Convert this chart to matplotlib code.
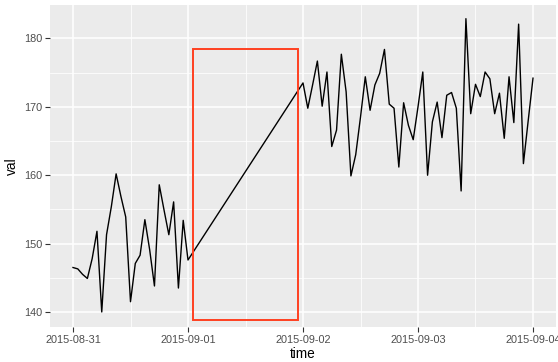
import pandas as pd
import numpy as np
import matplotlib
matplotlib.use("Agg")
import matplotlib.pyplot as plt
import matplotlib.dates as mdates
from matplotlib.patches import Rectangle

plt.rcParams['font.family'] = ['Liberation Sans', 'DejaVu Sans']

# Hourly readings, day 1 (2015-08-31 00:00 .. 2015-09-01 00:00)
vals_a = [146.5, 146.3, 145.5, 144.9, 147.8, 151.8, 140.0, 151.3, 155.4, 160.2,
          156.9, 153.9, 141.5, 147.1, 148.3, 153.5, 149.1, 143.8, 158.6, 154.9,
          151.3, 156.1, 143.5, 153.4, 147.6]
# Hourly readings after the gap (2015-09-02 00:00 .. 2015-09-04 00:00)
vals_b = [173.5, 169.8, 173.2, 176.7, 170.1, 175.1, 164.2, 166.6, 177.7, 172.2,
          159.9, 163.0, 168.5, 174.4, 169.5, 173.2, 174.9, 178.4, 170.4, 169.8,
          161.2, 170.6, 167.3, 165.2, 170.0, 175.1, 160.0, 167.8, 170.7, 165.5,
          171.7, 172.1, 169.8, 157.7, 182.9, 169.0, 173.3, 171.5, 175.1, 174.1,
          169.0, 172.0, 165.4, 174.4, 167.7, 182.1, 161.7, 168.0, 174.2]

time_a = pd.date_range('2015-08-31 00:00', periods=len(vals_a), freq='h')
time_b = pd.date_range('2015-09-02 00:00', periods=len(vals_b), freq='h')

df = pd.DataFrame({'time': time_a.append(time_b), 'val': vals_a + vals_b})

# highlighted gap
gap_start = pd.Timestamp('2015-09-01 01:00')
gap_end = pd.Timestamp('2015-09-01 23:00')
gap_lo, gap_hi = 138.8, 178.4

fig = plt.figure(figsize=(5.58, 3.62), dpi=100)
ax = fig.add_axes([50 / 558, 35 / 362, 506 / 558, 322 / 362])
ax.set_facecolor('#EBEBEB')

ax.plot(df['time'], df['val'], color='black', lw=1.0, zorder=3)

x0 = mdates.date2num(gap_start)
x1 = mdates.date2num(gap_end)
ax.add_patch(Rectangle((x0, gap_lo), x1 - x0, gap_hi - gap_lo, fill=False,
                       edgecolor='#FF4020', lw=1.4, zorder=4))

# ggplot style limits (5% expansion)
tmin = mdates.date2num(df['time'].min())
tmax = mdates.date2num(df['time'].max())
pad = 0.05 * (tmax - tmin)
ax.set_xlim(tmin - pad, tmax + pad)
ax.set_ylim(137.8, 184.9)

ax.xaxis.set_major_locator(mdates.DayLocator())
ax.xaxis.set_major_formatter(mdates.DateFormatter('%Y-%m-%d'))
ax.xaxis.set_minor_locator(mdates.HourLocator(byhour=[12]))
ax.set_yticks([140, 150, 160, 170, 180])
ax.set_yticks([145, 155, 165, 175], minor=True)

ax.grid(which='major', color='white', lw=1.1)
ax.grid(which='minor', color='white', lw=0.55)
ax.set_axisbelow(True)
for s in ax.spines.values():
    s.set_visible(False)

ax.tick_params(which='major', length=3.5, width=0.8, color='#333333',
               labelsize=7.8, labelcolor='#4D4D4D', pad=2)
ax.tick_params(which='minor', length=0)

ax.set_xlabel('time', fontsize=9.8, labelpad=2)
ax.set_ylabel('val', fontsize=9.8, labelpad=4)

fig.savefig('out.png', dpi=100)
